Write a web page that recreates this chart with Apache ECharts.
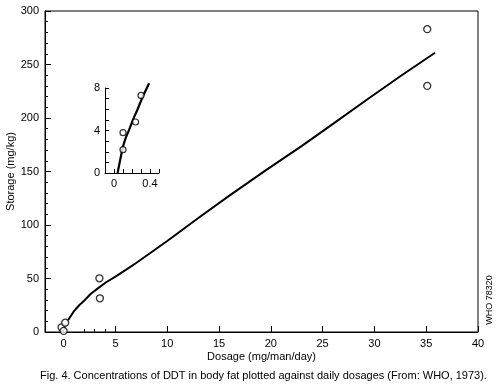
<!DOCTYPE html>
<html><head><meta charset="utf-8">
<script src="https://cdn.jsdelivr.net/npm/echarts@6/dist/echarts.min.js"></script>
<style>html,body{margin:0;padding:0;background:#fff}#c{width:500px;height:388px}</style>
</head><body><div id="c"></div>
<script>
// Main chart data
const mainCurve = [[0.42,11],[1.0,19.5],[1.5,25],[2.0,29.5],[2.6,35.5],[3.3,40.8],[4.1,46.5],[5.0,51.7],[6.0,58],[7.0,64.5],[10,85],[13,106.5],[16,127.5],[19.5,151],[23,174],[26,194.5],[29.4,218],[32.5,239],[35.85,261]];
const mainPoints = [[-0.2,4.4],[0,1],[0.15,8.7],[3.45,50.2],[3.5,31.5],[35.1,283],[35.1,230]];
const xMajorTicks = [0,5,10,15,20,25,30,35,40];
const xMinorTicks = [2,3,4];
// Inset data
const insetCurve = [[0.04,0],[0.07,1.3],[0.1,2.5],[0.13,3.3],[0.17,4.1],[0.21,5.0],[0.26,5.95],[0.32,7.2],[0.39,8.45]];
const insetPoints = [[0.1,3.8],[0.24,4.8],[0.3,7.3],[0.1,2.2]];
const insetXLabels = [0,0.4];
const insetYLabels = [0,4,8];

const FONT = '"Liberation Sans", Arial, sans-serif';
const black = '#000';
const chart = echarts.init(document.getElementById('c'), null, {renderer:'canvas'});
chart.setOption({
  animation:false,
  backgroundColor:'#fff',
  textStyle:{fontFamily:FONT, color:black},
  grid:[
    {left:45, right:22, top:11, bottom:56, show:true, borderColor:black, borderWidth:1, backgroundColor:'transparent', containLabel:false, outerBoundsMode:'none'},
    {left:105, right:341, top:88, bottom:215, containLabel:false, outerBoundsMode:'none'}
  ],
  xAxis:[
    {type:'value', gridIndex:0, min:-1.8, max:40,
     name:'Dosage (mg/man/day)', nameLocation:'middle', nameGap:19, nameMoveOverlap:false,
     nameTextStyle:{fontSize:11, color:black, fontFamily:FONT},
     axisLine:{show:true, onZero:false, lineStyle:{color:black, width:1}},
     axisTick:{show:true, inside:true, length:6, customValues:xMajorTicks, lineStyle:{color:black}},
     axisLabel:{customValues:xMajorTicks, fontSize:11, color:black, margin:6, fontFamily:FONT},
     splitLine:{show:false}},
    {type:'value', gridIndex:0, min:-1.8, max:40, position:'bottom',
     axisLine:{show:false, onZero:false},
     axisTick:{show:true, inside:true, length:3, customValues:xMinorTicks, lineStyle:{color:black}},
     axisLabel:{show:false}, splitLine:{show:false}},
    {type:'value', gridIndex:1, min:-0.1, max:0.5, interval:0.1,
     axisLine:{show:true, onZero:false, lineStyle:{color:black, width:1}},
     axisTick:{show:true, inside:true, length:4, lineStyle:{color:black}},
     axisLabel:{fontSize:11, color:black, margin:5, fontFamily:FONT, showMinLabel:true, showMaxLabel:true,
       formatter:v=>{ for(const l of insetXLabels){ if(Math.abs(v-l)<1e-6) return String(l);} return ''; }},
     splitLine:{show:false}}
  ],
  yAxis:[
    {type:'value', gridIndex:0, min:0, max:300, interval:50,
     name:'Storage (mg/kg)', nameLocation:'middle', nameGap:29, nameRotate:90, nameMoveOverlap:false,
     nameTextStyle:{fontSize:11, color:black, fontFamily:FONT},
     axisLine:{show:true, onZero:false, lineStyle:{color:black, width:1}},
     axisTick:{show:true, inside:true, length:6, lineStyle:{color:black}},
     minorTick:{show:true, splitNumber:5, length:3, lineStyle:{color:black}},
     axisLabel:{fontSize:11, color:black, margin:6, fontFamily:FONT},
     splitLine:{show:false}},
    {type:'value', gridIndex:1, min:0, max:8, interval:1,
     axisLine:{show:true, onZero:false, lineStyle:{color:black, width:1}},
     axisTick:{show:true, inside:true, length:4, lineStyle:{color:black}},
     axisLabel:{fontSize:11, color:black, margin:5, fontFamily:FONT,
       formatter:v=>{ for(const l of insetYLabels){ if(Math.abs(v-l)<1e-6) return String(l);} return ''; }},
     splitLine:{show:false}}
  ],
  series:[
    {type:'line', xAxisIndex:0, yAxisIndex:0, data:mainCurve, smooth:false, showSymbol:false, symbol:'none',
     lineStyle:{color:black, width:2}},
    {type:'scatter', xAxisIndex:0, yAxisIndex:0, data:mainPoints, symbol:'circle', symbolSize:7,
     itemStyle:{color:'#fff', borderColor:black, borderWidth:1.3}, z:5},
    {type:'line', xAxisIndex:2, yAxisIndex:1, data:insetCurve, smooth:false, showSymbol:false, symbol:'none', clip:false,
     lineStyle:{color:black, width:2.2}},
    {type:'scatter', xAxisIndex:2, yAxisIndex:1, data:insetPoints, symbol:'circle', symbolSize:6,
     itemStyle:{color:'#fff', borderColor:black, borderWidth:1.2}, z:5}
  ],
  graphic:[
    {type:'text', left:40, top:370, style:{text:'Fig. 4. Concentrations of DDT in body fat plotted against daily dosages (From: WHO, 1973).', font:'11px '+FONT, fill:black}},
    {type:'text', x:490, y:300, rotation:Math.PI/2, style:{text:'WHO 78320', font:'9px '+FONT, fill:black, align:'center', verticalAlign:'middle'}}
  ]
});
</script></body></html>
